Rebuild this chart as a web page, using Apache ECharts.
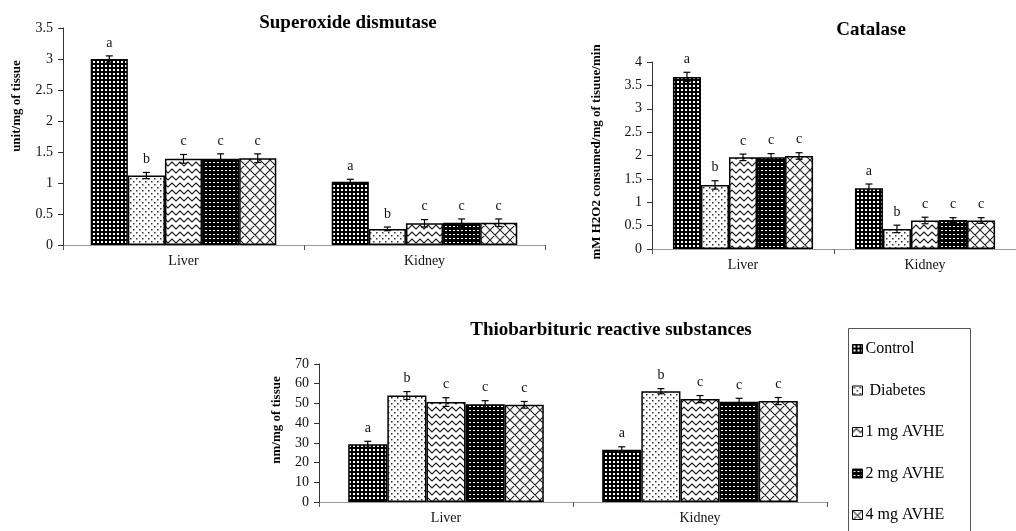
<!DOCTYPE html>
<html>
<head>
<meta charset="utf-8">
<script src="https://cdn.jsdelivr.net/npm/echarts@6/dist/echarts.min.js"></script>
<style>
  html, body { margin: 0; padding: 0; background: #fff; }
  #chart { width: 1016px; height: 531px; }
</style>
</head>
<body>
<div id="chart"></div>
<script>
// categories and groups
const organs = ['Liver', 'Kidney'];
const treatments = ['Control', ' Diabetes', '1 mg AVHE', '2 mg AVHE', '4 mg AVHE'];
const letters = ['a', 'b', 'c', 'c', 'c'];

// values per treatment: [Liver, Kidney]
const sodValues = [[3.00, 1.02], [1.12, 0.26], [1.39, 0.35], [1.39, 0.36], [1.40, 0.36]];
const sodErrors = [[0.05, 0.04], [0.05, 0.03], [0.07, 0.06], [0.08, 0.06], [0.07, 0.06]];

const catValues = [[3.68, 1.30], [1.37, 0.43], [1.96, 0.61], [1.96, 0.62], [1.99, 0.61]];
const catErrors = [[0.10, 0.09], [0.09, 0.08], [0.07, 0.07], [0.08, 0.05], [0.07, 0.06]];

const tbaValues = [[29.3, 26.5], [54.0, 56.2], [50.7, 52.2], [49.6, 50.8], [49.3, 51.2]];
const tbaErrors = [[1.5, 1.5], [2.0, 1.3], [2.2, 1.8], [1.8, 1.8], [1.7, 1.8]];

const titles = ['Superoxide dismutase', 'Catalase', 'Thiobarbituric reactive substances'];
const yNames = ['unit/mg of tissue', 'mM H2O2 consumed/mg of tisuue/min', 'nm/mg of tissue'];

const serif = '"Liberation Serif", "DejaVu Serif", serif';
const gapPct = 0.23;

function makePattern(w, h, draw) {
  const c = document.createElement('canvas');
  c.width = w; c.height = h;
  const ctx = c.getContext('2d');
  ctx.fillStyle = '#fff';
  ctx.fillRect(0, 0, w, h);
  draw(ctx);
  return { image: c, repeat: 'repeat' };
}

const patterns = [
  makePattern(4, 4, ctx => {
    ctx.fillStyle = '#000'; ctx.fillRect(0, 0, 4, 4);
    ctx.fillStyle = '#fff'; ctx.fillRect(1, 1, 2, 2);
  }),
  makePattern(6, 6, ctx => {
    ctx.fillStyle = '#333';
    ctx.fillRect(1, 1, 1.5, 1.5);
    ctx.fillRect(4, 4, 1.5, 1.5);
  }),
  makePattern(8, 7, ctx => {
    ctx.strokeStyle = '#111'; ctx.lineWidth = 1.1;
    ctx.beginPath();
    ctx.moveTo(-4, 1); ctx.lineTo(0, 5); ctx.lineTo(4, 1); ctx.lineTo(8, 5); ctx.lineTo(12, 1);
    ctx.stroke();
  }),
  makePattern(4, 4, ctx => {
    ctx.fillStyle = '#000'; ctx.fillRect(0, 0, 4, 4);
    ctx.fillStyle = '#fff'; ctx.fillRect(1, 2, 2, 1);
  }),
  makePattern(10, 10, ctx => {
    ctx.strokeStyle = '#222'; ctx.lineWidth = 1.1;
    ctx.beginPath();
    for (const d of [-10, 0, 10]) {
      ctx.moveTo(d, 0); ctx.lineTo(d + 10, 10);
      ctx.moveTo(d + 10, 0); ctx.lineTo(d, 10);
    }
    ctx.stroke();
  })
];

const charts = [
  { values: sodValues, errors: sodErrors, max: 3.5, interval: 0.5 },
  { values: catValues, errors: catErrors, max: 4, interval: 0.5 },
  { values: tbaValues, errors: tbaErrors, max: 70, interval: 10 }
];

const grids = [
  { left: 63, top: 28, right: 471, bottom: 286 },
  { left: 652, top: 62, right: -12, bottom: 282 },
  { left: 319, top: 364, right: 189, bottom: 29 }
];

const series = [];
charts.forEach((ch, k) => {
  treatments.forEach((t, i) => {
    series.push({
      name: t,
      type: 'bar',
      xAxisIndex: k,
      yAxisIndex: k,
      data: ch.values[i],
      barGap: 0,
      barCategoryGap: (gapPct * 100) + '%',
      itemStyle: { color: patterns[i], borderColor: '#000', borderWidth: 1.5 },
      emphasis: { disabled: true }
    });
  });
  const errData = [];
  organs.forEach((o, j) => {
    treatments.forEach((t, i) => {
      errData.push([j, i, ch.values[i][j], ch.errors[i][j]]);
    });
  });
  series.push({
    name: 'err' + k,
    type: 'custom',
    xAxisIndex: k,
    yAxisIndex: k,
    z: 5,
    encode: { x: 0, y: 2 },
    data: errData,
    renderItem: function (params, api) {
      const cat = api.value(0);
      const idx = api.value(1);
      const v = api.value(2);
      const e = api.value(3);
      const band = api.size([1, 0])[0];
      const groupW = band * (1 - gapPct);
      const barW = groupW / treatments.length;
      const c = api.coord([cat, v]);
      const x = c[0] - groupW / 2 + (idx + 0.5) * barW;
      const yHi = api.coord([cat, v + e])[1];
      const yLo = api.coord([cat, v - e])[1];
      const cap = 3.5;
      const st = { stroke: '#000', lineWidth: 1.2 };
      return {
        type: 'group',
        children: [
          { type: 'line', shape: { x1: x, y1: yLo, x2: x, y2: yHi }, style: st },
          { type: 'line', shape: { x1: x - cap, y1: yHi, x2: x + cap, y2: yHi }, style: st },
          { type: 'line', shape: { x1: x - cap, y1: yLo, x2: x + cap, y2: yLo }, style: st },
          {
            type: 'text',
            style: {
              text: letters[idx], x: x, y: yHi - 13,
              align: 'center', verticalAlign: 'middle',
              fontSize: 14, fontFamily: serif, fill: '#111'
            }
          }
        ]
      };
    }
  });
});

const option = {
  animation: false,
  backgroundColor: '#fff',
  title: [
    { text: titles[0], left: 343, top: 9, textAlign: 'center',
      textStyle: { fontFamily: serif, fontSize: 19, fontWeight: 'bold', color: '#000' } },
    { text: titles[1], left: 866, top: 16, textAlign: 'center',
      textStyle: { fontFamily: serif, fontSize: 19, fontWeight: 'bold', color: '#000' } },
    { text: titles[2], left: 606, top: 316, textAlign: 'center',
      textStyle: { fontFamily: serif, fontSize: 19, fontWeight: 'bold', color: '#000' } }
  ],
  legend: {
    data: treatments,
    orient: 'vertical',
    left: 852,
    top: 341,
    padding: 0,
    itemWidth: 10,
    itemHeight: 9,
    itemGap: 25.5,
    icon: 'rect',
    selectedMode: false,
    itemStyle: { borderWidth: 1 },
    textStyle: { fontFamily: serif, fontSize: 16, color: '#000', padding: [0, 0, 0, -2] }
  },
  grid: grids,
  xAxis: grids.map((g, k) => ({
    type: 'category',
    gridIndex: k,
    data: organs,
    axisLine: { lineStyle: { color: '#999', width: 1 } },
    axisTick: { show: true, length: 5, lineStyle: { color: '#555' } },
    axisLabel: { fontFamily: serif, fontSize: 14, color: '#111', margin: 9 }
  })),
  yAxis: charts.map((ch, k) => ({
    type: 'value',
    gridIndex: k,
    min: 0,
    max: ch.max,
    interval: ch.interval,
    splitLine: { show: false },
    axisLine: { show: true, lineStyle: { color: '#333', width: 1 } },
    axisTick: { show: true, length: 5, lineStyle: { color: '#333' } },
    axisLabel: { fontFamily: serif, fontSize: 14, color: '#111', margin: 10 }
  })),
  graphic: [
    { type: 'rect', shape: { x: 848.5, y: 328.5, width: 122, height: 230 },
      style: { fill: 'none', stroke: '#555', lineWidth: 1 } },
    { type: 'text', x: 17, y: 106, rotation: Math.PI / 2,
      style: { text: yNames[0], align: 'center', verticalAlign: 'middle',
        font: 'bold 13px ' + serif, fill: '#000' } },
    { type: 'text', x: 597, y: 152, rotation: Math.PI / 2,
      style: { text: yNames[1], align: 'center', verticalAlign: 'middle',
        font: 'bold 13px ' + serif, fill: '#000' } },
    { type: 'text', x: 277, y: 420, rotation: Math.PI / 2,
      style: { text: yNames[2], align: 'center', verticalAlign: 'middle',
        font: 'bold 13px ' + serif, fill: '#000' } }
  ],
  series: series
};

const myChart = echarts.init(document.getElementById('chart'));
myChart.setOption(option);
window.onresize = function () {
  myChart.resize();
};
</script>
</body>
</html>
